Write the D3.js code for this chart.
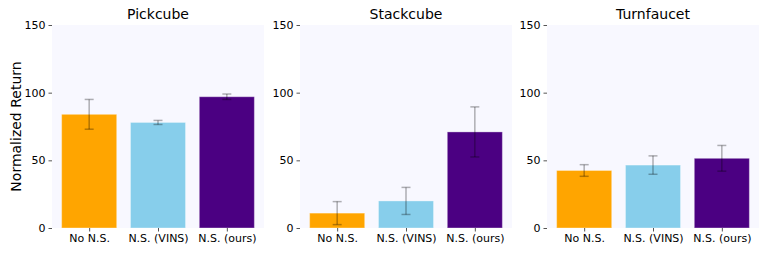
<!DOCTYPE html>
<html>
<head>
<meta charset="utf-8">
<script src="https://cdn.jsdelivr.net/npm/d3@7"></script>
<style>
  body { margin: 0; background: #fff; }
  svg text { font-family: "DejaVu Sans", sans-serif; fill: #000; }
</style>
</head>
<body>
<div id="chart"></div>
<script>
// Normalized return per task, three methods each
const tasks = ['Pickcube', 'Stackcube', 'Turnfaucet'];
const methods = ['No N.S.', 'N.S. (VINS)', 'N.S. (ours)'];
const colors = ['#ffa500', '#87ceeb', '#4b0082'];

const means = [
    [84, 78, 97],
    [11, 20, 71],
    [42.5, 46.5, 51.5]
];
const errs = [
    [11, 1.5, 2],
    [8.5, 10, 18.5],
    [4.3, 6.8, 9.5]
];
const yTicks = [0, 50, 100, 150];

const W = 768, H = 256;
const panelLeft = [52, 300, 547];
const panelW = 212;
const plotTop = 25, plotBottom = 228;

const svg = d3.select('#chart').append('svg')
    .attr('width', W).attr('height', H);

const y = d3.scaleLinear().domain([0, 150]).range([plotBottom, plotTop]);

tasks.forEach((task, t) => {
    const x = d3.scaleLinear()
        .domain([-0.54, 2.54])
        .range([panelLeft[t], panelLeft[t] + panelW]);
    const bw = x(0.8) - x(0);

    const g = svg.append('g');

    g.append('rect')
        .attr('x', x(-0.54)).attr('y', plotTop)
        .attr('width', panelW).attr('height', plotBottom - plotTop)
        .attr('fill', '#f8f8ff');

    g.selectAll('.bar')
        .data(means[t])
        .enter().append('rect')
        .attr('x', (d, i) => x(i) - bw / 2)
        .attr('y', d => y(d))
        .attr('width', bw)
        .attr('height', d => y(0) - y(d))
        .attr('fill', (d, i) => colors[i])
        .attr('stroke', 'white')
        .attr('stroke-opacity', 0.35)
        .attr('stroke-width', 1);

    // error bars
    means[t].forEach((m, i) => {
        const e = errs[t][i];
        const eg = g.append('g')
            .attr('stroke', '#000')
            .attr('stroke-opacity', 0.3)
            .attr('stroke-width', 1.5);
        eg.append('line')
            .attr('x1', x(i)).attr('x2', x(i))
            .attr('y1', y(m - e)).attr('y2', y(m + e));
        [m - e, m + e].forEach(v => {
            eg.append('line')
                .attr('x1', x(i) - 4.5).attr('x2', x(i) + 4.5)
                .attr('y1', y(v)).attr('y2', y(v));
        });
    });

    // y axis
    const yAxis = g.append('g')
        .attr('transform', `translate(${x(-0.54)},0)`)
        .call(d3.axisLeft(y).tickValues(yTicks).tickSize(3.5).tickPadding(3));
    yAxis.select('.domain').remove();
    yAxis.selectAll('line').attr('stroke', '#555');
    yAxis.selectAll('text').attr('font-size', 11).style('font-family', '"DejaVu Sans", sans-serif');

    // x axis
    const xAxis = g.append('g')
        .attr('transform', `translate(0,${plotBottom})`)
        .call(d3.axisBottom(x).tickValues([0, 1, 2])
            .tickFormat(i => methods[i]).tickSize(3.5).tickPadding(3));
    xAxis.select('.domain').remove();
    xAxis.selectAll('line').attr('stroke', '#555');
    xAxis.selectAll('text').attr('font-size', 11).style('font-family', '"DejaVu Sans", sans-serif');

    g.append('text')
        .attr('x', x(-0.54) + panelW / 2)
        .attr('y', 19)
        .attr('text-anchor', 'middle')
        .attr('font-size', 14)
        .text(task);
});

svg.append('text')
    .attr('transform', `translate(21,${(plotTop + plotBottom) / 2}) rotate(-90)`)
    .attr('text-anchor', 'middle')
    .attr('font-size', 14)
    .text('Normalized Return');
</script>
</body>
</html>
